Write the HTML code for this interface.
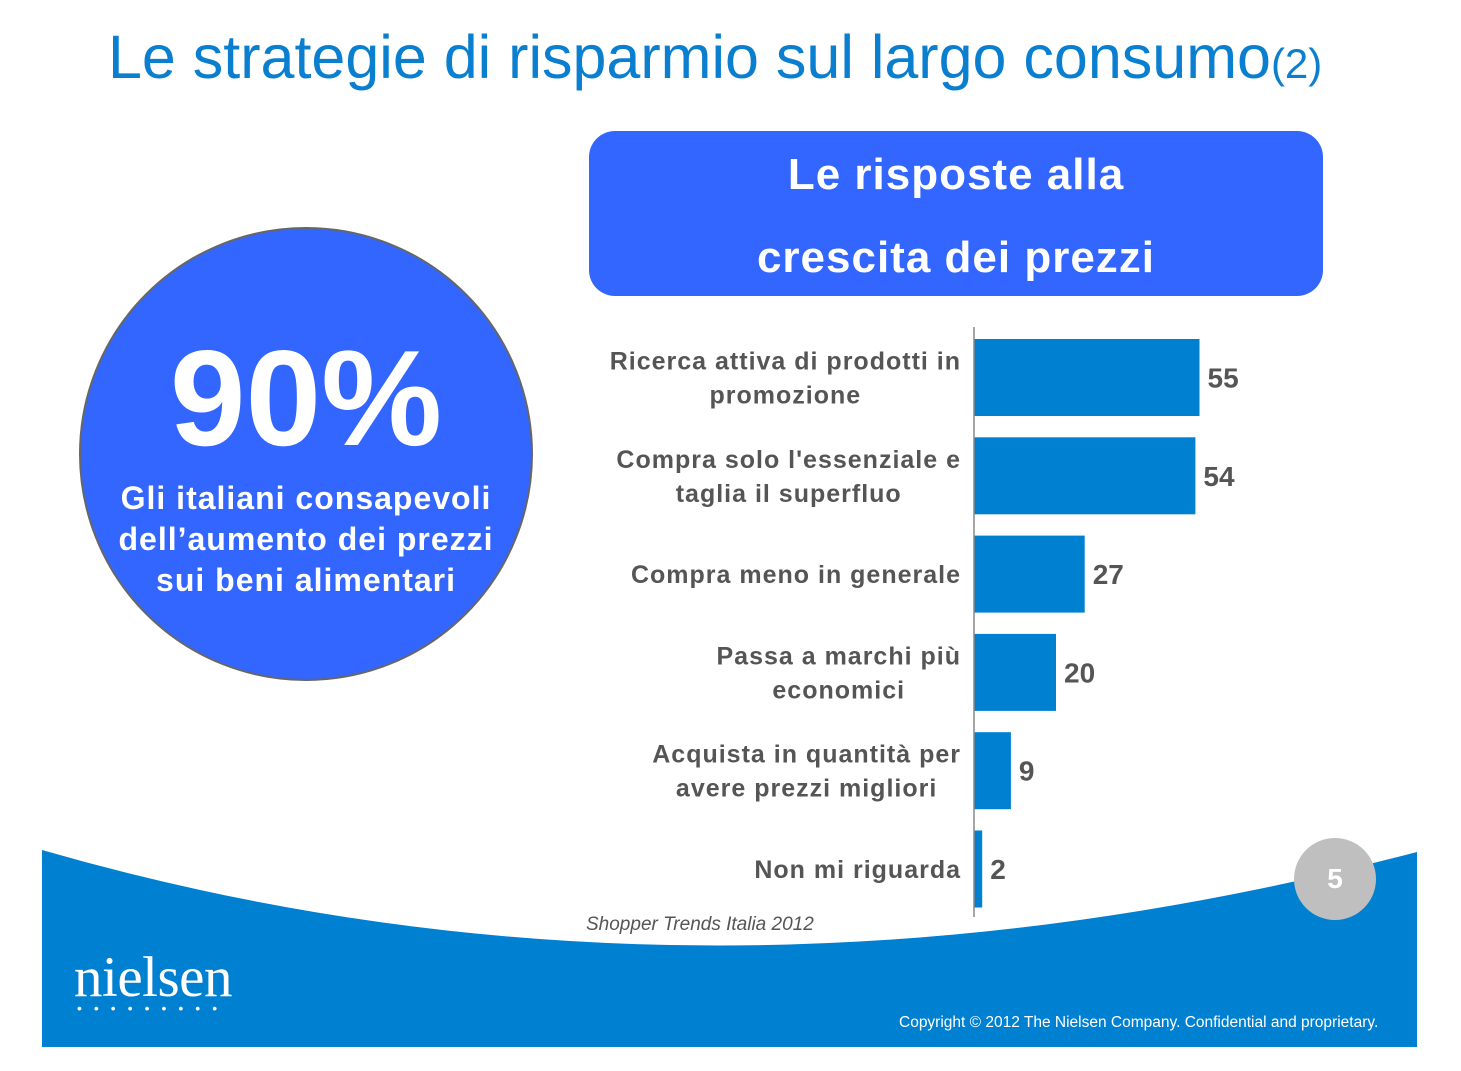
<!DOCTYPE html>
<html><head><meta charset="utf-8">
<style>
body{margin:0;width:1461px;height:1071px;background:#fff;overflow:hidden;position:relative;font-family:"Liberation Sans",Arial,sans-serif}
.abs{position:absolute}
</style></head><body>
<svg class="abs" style="left:0;top:0" width="1461" height="1071">
<path d="M42,850 Q700,1040 1417,852 L1417,1047 L42,1047 Z" fill="#0080d0"/>
</svg>
<div class="abs" style="left:108px;top:22px;font-size:61px;color:#0a7fd0;white-space:nowrap">Le strategie di risparmio sul largo consumo<span style="font-size:42px">(2)</span></div>
<div class="abs" style="left:79px;top:227px;width:454px;height:454px;border-radius:50%;background:#3366ff;border:2px solid #666;box-sizing:border-box;color:#fff;text-align:center;font-weight:bold">
<div style="margin-top:104px;font-size:136px;line-height:130px">90%</div>
<div style="font-size:32px;line-height:41px;margin-top:15px;letter-spacing:1px">Gli italiani consapevoli<br>dell’aumento dei prezzi<br>sui beni alimentari</div>
</div>
<div class="abs" style="left:589px;top:131px;width:734px;height:165px;border-radius:26px;background:#3366ff;color:#fff;font-weight:bold;font-size:44px;letter-spacing:1px;text-align:center;line-height:83px;padding-top:2px;box-sizing:border-box">Le risposte alla<br>crescita dei prezzi</div>
<svg class="abs" id="chart" style="left:0;top:0" width="1461" height="1071"></svg>
<div class="abs" style="left:586px;top:914px;font-size:19px;font-style:italic;color:#555">Shopper Trends Italia 2012</div>
<div class="abs" style="left:1294px;top:838px;width:82px;height:82px;border-radius:50%;background:#bfbfbf;color:#fff;font-weight:bold;font-size:28px;text-align:center;line-height:82px">5</div>
<div class="abs" style="left:74px;top:945px;font-family:'Liberation Serif',serif;font-size:57px;color:#fff;letter-spacing:-0.5px">nielsen</div>
<div class="abs" style="left:77px;top:1000px;font-size:14px;color:#fff;letter-spacing:12px">•••••••••</div>
<div class="abs" style="left:899px;top:1014px;font-size:15.5px;color:#fff">Copyright © 2012 The Nielsen Company. Confidential and proprietary.</div>
<script>
const categories=[["Ricerca attiva di prodotti in","promozione"],["Compra solo l'essenziale e","taglia il superfluo"],["Compra meno in generale"],["Passa a marchi più","economici"],["Acquista in quantità per","avere prezzi migliori"],["Non mi riguarda"]];
const values=[55,54,27,20,9,2];
const valueLabels=["55","54","27","20","9","2"];
const svg=document.getElementById('chart');
const NS='http://www.w3.org/2000/svg';
const x0=974,pxPer=4.1,top0=327,step=98.3,barH=77;
const xs=v=>x0+v*pxPer;
const yb=i=>top0+12+i*step;
function mk(t,a){const e=document.createElementNS(NS,t);for(const k in a)e.setAttribute(k,a[k]);svg.appendChild(e);return e;}
values.forEach((v,i)=>{
 const r=mk('rect',{x:x0,y:yb(i),width:xs(v)-x0,height:barH,fill:'#0080d0'});
 
 
 const t=mk('text',{x:xs(v)+8,y:yb(i)+barH/2+10,'font-size':28,'font-weight':'bold',fill:'#555','font-family':'Liberation Sans, sans-serif'});
 t.textContent=valueLabels[i];
 
 
 const lines=categories[i];
 const els=[];
 lines.forEach((ln,j)=>{
  const cy=yb(i)+barH/2+9+(j-(lines.length-1)/2)*34;
  const c=mk('text',{x:0,y:cy,'font-size':25,'font-weight':'bold',fill:'#555','letter-spacing':1,'text-anchor':'middle','font-family':'Liberation Sans, sans-serif'});
  c.textContent=ln;
  
  
  els.push(c);
 });
 let w=0;els.forEach(e=>{w=Math.max(w,e.getComputedTextLength());});
 els.forEach(e=>e.setAttribute('x',961-w/2));
});
const ax=mk('line',{x1:x0,y1:top0,x2:x0,y2:917,stroke:'#888','stroke-width':1.5});


</script>
</body></html>
